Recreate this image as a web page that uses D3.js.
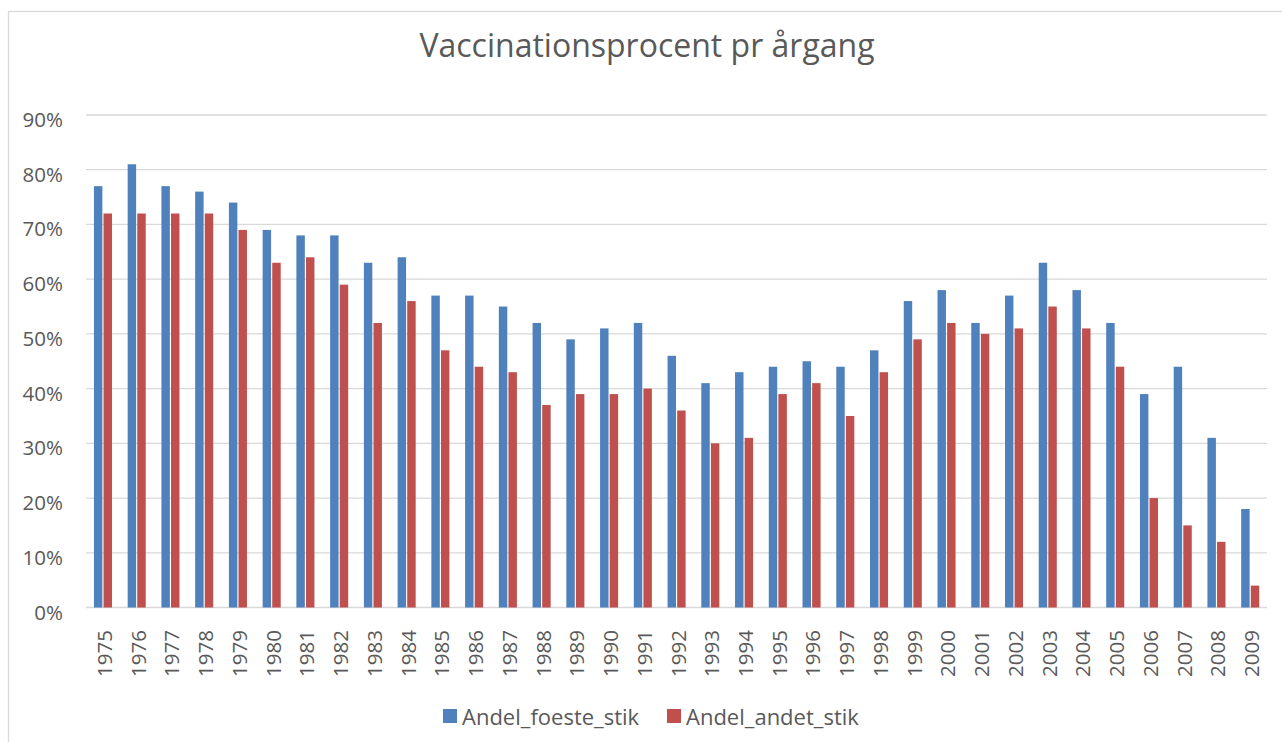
<!DOCTYPE html>
<html>
<head>
<meta charset="utf-8">
<script src="https://cdn.jsdelivr.net/npm/d3@7"></script>
<style>
  body { margin: 0; background: #fff; }
  text { font-family: "Open Sans", Lato, sans-serif; fill: #595959; }
</style>
</head>
<body>
<div id="chart"></div>
<script>
const years = d3.range(1975, 2010).map(String)
const seriesNames = ['Andel_foeste_stik', 'Andel_andet_stik']
const foeste = [77, 81, 77, 76, 74, 69, 68, 68, 63, 64, 57, 57, 55, 52, 49, 51, 52, 46, 41, 43,
  44, 45, 44, 47, 56, 58, 52, 57, 63, 58, 52, 39, 44, 31, 18]
const andet = [72, 72, 72, 72, 69, 63, 64, 59, 52, 56, 47, 44, 43, 37, 39, 39, 40, 36, 30, 31,
  39, 41, 35, 43, 49, 52, 50, 51, 55, 51, 44, 20, 15, 12, 4]
const yTicks = [0, 10, 20, 30, 40, 50, 60, 70, 80, 90]
const colors = ['#4F81BD', '#C0504D']

const width = 1282, height = 742
const margin = {top: 115, right: 15, bottom: 134.5, left: 86}

const svg = d3.select('#chart').append('svg')
  .attr('width', width)
  .attr('height', height)

// chart frame
svg.append('rect')
  .attr('x', 8.5).attr('y', 11.5)
  .attr('width', 1300).attr('height', 800)
  .attr('fill', 'none')
  .attr('stroke', '#D9D9D9')
  .attr('stroke-width', 1.3)

svg.append('text')
  .attr('x', 647).attr('y', 57)
  .attr('text-anchor', 'middle')
  .style('font-size', '32px')
  .text('Vaccinationsprocent pr årgang')

const x = d3.scaleBand()
  .domain(years)
  .range([margin.left, 1267])
const bw = x.bandwidth()
const x1 = d3.scaleBand()
  .domain(seriesNames)
  .range([bw * 0.235, bw * 0.77])
  .paddingInner(0.12)
const y = d3.scaleLinear()
  .domain([0, 90])
  .range([height - margin.bottom, margin.top])

// gridlines
svg.append('g').selectAll('line')
  .data(yTicks)
  .enter().append('line')
  .attr('x1', margin.left).attr('x2', 1267)
  .attr('y1', d => y(d)).attr('y2', d => y(d))
  .attr('stroke', '#D9D9D9')
  .attr('stroke-width', 1.3)

// y labels
svg.append('g').selectAll('text')
  .data(yTicks)
  .enter().append('text')
  .attr('x', 63)
  .attr('y', d => y(d) + 12)
  .attr('text-anchor', 'end')
  .style('font-size', '20.5px')
  .text(d => d + '%')

const data = [foeste, andet]
const groups = svg.append('g').selectAll('g')
  .data(data)
  .enter().append('g')
  .attr('fill', (d, i) => colors[i])
groups.each(function(vals, i) {
  d3.select(this).selectAll('rect')
    .data(vals)
    .enter().append('rect')
    .attr('x', (d, j) => x(years[j]) + x1(seriesNames[i]))
    .attr('width', x1.bandwidth())
    .attr('y', d => y(d))
    .attr('height', d => y(0) - y(d))
})

// x labels
svg.append('g').selectAll('text')
  .data(years)
  .enter().append('text')
  .attr('transform', d => `translate(${x(d) + bw / 2 + 9}, 630) rotate(-90)`)
  .attr('text-anchor', 'end')
  .style('font-size', '20.5px')
  .text(d => d)

// legend
const legend = svg.append('g')
const lx = [443, 667]
seriesNames.forEach((s, i) => {
  legend.append('rect')
    .attr('x', lx[i]).attr('y', 709)
    .attr('width', 14).attr('height', 14)
    .attr('fill', colors[i])
  legend.append('text')
    .attr('x', lx[i] + 19).attr('y', 725)
    .style('font-size', '22px')
    .text(s)
})
</script>
</body>
</html>
